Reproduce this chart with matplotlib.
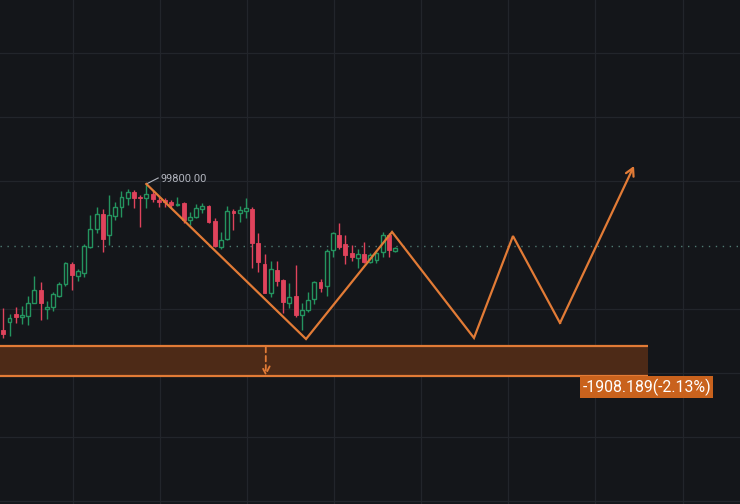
import numpy as np
import matplotlib.pyplot as plt

# OHLC (one candle per slot)
opens = [90510, 91020, 91530, 91340, 91400, 92230, 93060, 91850, 91980, 92680,
         93440, 94710, 93950, 94140, 95790, 96940, 97890, 96560, 97760, 98340,
         98910, 99290, 98970, 98910, 99160, 98780, 98780, 98660, 98460, 98590,
         97510, 97700, 98210, 98400, 97450, 95790, 96300, 98080, 97960, 98080,
         98210, 96050, 94710, 92870, 94330, 93690, 92230, 92680, 91470, 91790,
         92490, 93570, 93310, 95600, 96560, 95980, 95410, 95090, 95350, 94840,
         94970, 95480, 96560, 95540]
highs = [91910, 91530, 91980, 92040, 92680, 93950, 93570, 92360, 92930, 93570,
         94840, 94840, 94390, 95980, 97830, 98340, 98210, 99100, 98660, 99350,
         99480, 99420, 99100, 99800, 99420, 98970, 98910, 98780, 98970, 98660,
         98020, 98530, 98590, 98460, 97640, 96750, 98400, 98210, 98400, 98910,
         98340, 96680, 95350, 94900, 94900, 93760, 93500, 94650, 92230, 92930,
         93630, 93760, 95670, 96750, 97320, 96560, 95920, 95670, 96110, 95410,
         95600, 96750, 96680, 95790]
lows = [90010, 90130, 90960, 90900, 90830, 92550, 91150, 91210, 91720, 92610,
        93310, 93060, 93630, 93890, 95730, 96680, 95480, 95920, 97510, 97700,
        98460, 98270, 97070, 98270, 98660, 98340, 98340, 98270, 98400, 97320,
        97190, 97640, 97960, 97320, 95790, 95670, 96240, 96870, 97380, 97640,
        94460, 94200, 92870, 92610, 93310, 91600, 91910, 91340, 90510, 91660,
        92170, 92930, 92680, 95160, 95670, 94710, 94900, 94460, 94780, 94780,
        94780, 95160, 95160, 95480]
closes = [90260, 91280, 91340, 91470, 92230, 93060, 92230, 91980, 92800, 93440,
          94780, 94010, 94270, 95860, 96940, 97890, 96300, 97830, 98340, 98970,
          99290, 98910, 98880, 99160, 98850, 98660, 98660, 98460, 98530, 97510,
          97700, 98270, 98400, 97380, 95860, 96240, 98080, 97960, 98150, 98270,
          96050, 94840, 92870, 94390, 93630, 92300, 92610, 91470, 91790, 92420,
          93570, 93190, 95540, 96680, 95790, 95280, 95160, 95350, 94840, 95280,
          95410, 96560, 95600, 95730]

# projected path (bar index, price)
path_x = [23, 48.67, 62.5, 75.67, 81.94, 89.5, 101.4]
path_price = [99800, 89940, 96750, 90010, 96490, 90960, 100950]

peak_label = "99800.00"
band_top = 89497
band_change = 1908.189
band_pct = 2.13
band_end = 103.65
last_price = 95825

bg = "#14161a"
grid_c = "#22252b"
up_c = "#24945f"
down_c = "#e0435c"
orange = "#e27b36"

fig = plt.figure(figsize=(7.4, 5.04), dpi=100, facecolor=bg)
ax = fig.add_axes([0, 0, 1, 1], facecolor=bg)
ax.set_xlim(-0.53, 118.44)
ax.set_ylim(79448, 111502)
ax.set_axis_off()

# grid
for gx in 11.2 + 14 * np.arange(8):
    ax.axvline(gx, color=grid_c, lw=0.9, zorder=0)
for gy in 108130 - 4070 * np.arange(8):
    if abs(gy - last_price) > 500:
        ax.axhline(gy, color=grid_c, lw=0.9, zorder=0)

# last price dotted line
ax.axhline(last_price, color="#4f7a72", lw=1.0, ls=(0, (1, 4)), zorder=1)

# candles
idx = np.arange(len(opens))
o = np.array(opens); c = np.array(closes)
h = np.array(highs); l = np.array(lows)
up = c >= o
cols = np.where(up, up_c, down_c)
ax.vlines(idx, l, h, colors=cols, lw=1.0, zorder=2)
body_lo = np.minimum(o, c)
body_h = np.maximum(np.abs(c - o), 70)
ax.bar(idx[up], body_h[up], bottom=body_lo[up], width=0.62,
       facecolor=bg, edgecolor=up_c, lw=1.0, zorder=3)
ax.bar(idx[~up], body_h[~up], bottom=body_lo[~up], width=0.62,
       facecolor=down_c, edgecolor=down_c, lw=0.6, zorder=3)

# peak label
ax.plot([path_x[0], 24.9], [highs[23], 100182], color="#b2b5be", lw=0.8, zorder=4)
ax.text(25.2, 100118, peak_label, color="#b2b5be", fontsize=7.9,
        family="Roboto", va="center", ha="left", zorder=4)

# zigzag projection
ax.plot(path_x[:-1], path_price[:-1], color=orange, lw=1.6, zorder=5,
        solid_joinstyle="miter")
ax.annotate("", xy=(path_x[-1], path_price[-1]), xytext=(path_x[-2], path_price[-2]),
            arrowprops=dict(arrowstyle="->,head_length=0.55,head_width=0.3",
                            color=orange, lw=1.6, shrinkA=0, shrinkB=0), zorder=5)

# measured band
band_bot = band_top - band_change
ax.fill_between([-0.53, band_end], band_bot, band_top, color="#4d2a17", lw=0, zorder=4)
ax.hlines([band_top, band_bot], -0.53, band_end, color=orange, lw=1.6, zorder=5)
ax.annotate("", xy=(42.2, band_bot), xytext=(42.2, band_top - 60),
            arrowprops=dict(arrowstyle="->,head_length=0.55,head_width=0.28",
                            color=orange, lw=1.3, ls=(0, (3, 2)),
                            shrinkA=0, shrinkB=0), zorder=6)
ax.text(93.1, 86889, f"-{band_change:.3f}(-{band_pct:.2f}%)", color="white",
        fontsize=11.4, family="Roboto", ha="left", va="center", zorder=6,
        bbox=dict(boxstyle="square,pad=0.12", facecolor="#c9621d", edgecolor="none"))

fig.savefig("out.png", dpi=100, facecolor=bg)
